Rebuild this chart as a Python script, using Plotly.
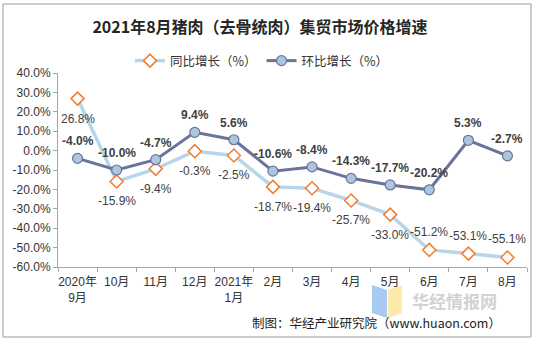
import plotly.graph_objects as go

categories = ["2020年<br>9月", "10月", "11月", "12月", "2021年<br>1月", "2月", "3月", "4月", "5月", "6月", "7月", "8月"]
yoy = [26.8, -15.9, -9.4, -0.3, -2.5, -18.7, -19.4, -25.7, -33.0, -51.2, -53.1, -55.1]
mom = [-4.0, -10.0, -4.7, 9.4, 5.6, -10.6, -8.4, -14.3, -17.7, -20.2, 5.3, -2.7]
yoy_label_above = [False, False, False, False, False, False, False, False, False, True, True, True]
ytick_vals = [40, 30, 20, 10, 0, -10, -20, -30, -40, -50, -60]
ytick_text = ["40.0%", "30.0%", "20.0%", "10.0%", "0.0%", "-10.0%", "-20.0%", "-30.0%", "-40.0%", "-50.0%", "-60.0%"]

W, H = 536, 341
L, R, T, B = 58, 9, 73, 74
pw, ph = W - L - R, H - T - B

def px(x):
    return (x - L) / pw

def py(y):
    return (H - B - y) / ph

FONT = "Liberation Sans, Arial, Noto Sans CJK SC, sans-serif"

fig = go.Figure()
fig.add_trace(go.Scatter(
    x=categories, y=yoy, name="同比增长（%）", mode="lines+markers",
    line=dict(color="#b8d5ea", width=3.5),
    marker=dict(symbol="diamond", size=10, color="white", line=dict(color="#ef7d2f", width=1.5)),
))
fig.add_trace(go.Scatter(
    x=categories, y=mom, name="环比增长（%）", mode="lines+markers",
    line=dict(color="#6b7399", width=3),
    marker=dict(symbol="circle", size=10, color="#abc7e0", line=dict(color="#6b7399", width=1.2)),
))

annotations = []
for c, v, above in zip(categories, yoy, yoy_label_above):
    annotations.append(dict(x=c, y=v, xref="x", yref="y", text=f"{v:.1f}%", showarrow=False,
                            yshift=18 if above else -20,
                            font=dict(family=FONT, size=12, color="#404040")))
for c, v in zip(categories, mom):
    annotations.append(dict(x=c, y=v, xref="x", yref="y", text=f"<b>{v:.1f}%</b>", showarrow=False,
                            yshift=17, font=dict(family=FONT, size=12, color="#404040")))

annotations.append(dict(xref="paper", yref="paper", x=px(410), y=py(300), xanchor="left", yanchor="middle",
                        text="<b>华经情报网</b>", showarrow=False,
                        font=dict(family="Noto Sans CJK SC", size=17, color="#d2d2d2")))
annotations.append(dict(xref="paper", yref="paper", x=px(503), y=py(322), xanchor="right", yanchor="middle",
                        text="制图：华经产业研究院（www.huaon.com）", showarrow=False,
                        font=dict(family="Noto Sans CJK SC, " + FONT, size=12.5, color="#222222")))

shapes = [
    dict(type="rect", xref="paper", yref="paper", x0=px(3), x1=px(531), y0=py(337), y1=py(4),
         line=dict(color="#9a9a9a", width=1), fillcolor="rgba(0,0,0,0)", layer="below"),
    dict(type="path", xref="paper", yref="paper",
         path=f"M {px(372)} {py(285)} L {px(387)} {py(290)} L {px(387)} {py(318)} L {px(372)} {py(313)} Z",
         line=dict(width=0), fillcolor="#a9c9f2", layer="below"),
    dict(type="path", xref="paper", yref="paper",
         path=f"M {px(388)} {py(290)} L {px(402)} {py(285)} L {px(402)} {py(313)} L {px(388)} {py(318)} Z",
         line=dict(width=0), fillcolor="#fdeaa9", layer="below"),
]

fig.update_layout(
    width=W, height=H, margin=dict(l=L, r=R, t=T, b=B),
    paper_bgcolor="white", plot_bgcolor="white",
    title=dict(text="<b>2021年8月猪肉（去骨统肉）集贸市场价格增速</b>", xref="container", yref="container",
               x=260 / W, y=1 - 27 / H, xanchor="center", yanchor="middle",
               font=dict(family="Noto Sans CJK SC", size=16, color="#262626")),
    legend=dict(orientation="h", xref="paper", yref="paper", x=px(262), y=py(61), xanchor="center", yanchor="middle",
                font=dict(family="Noto Sans CJK SC", size=12.5, color="#333333"), itemwidth=30,
                bgcolor="rgba(0,0,0,0)"),
    xaxis=dict(type="category", range=[-0.5, 11.5], tickson="boundaries", ticks="outside", ticklen=4,
               tickangle=0, automargin=False, ticklabelstandoff=4,
               tickcolor="#a6a6a6", showline=True, linecolor="#a6a6a6", showgrid=False, zeroline=False,
               tickfont=dict(family=FONT, size=12, color="#333333")),
    yaxis=dict(range=[-60, 40], tickvals=ytick_vals, ticktext=ytick_text, ticks="outside", ticklen=4,
               tickcolor="#a6a6a6", showline=True, linecolor="#a6a6a6", showgrid=False, zeroline=False,
               tickfont=dict(family=FONT, size=12, color="#333333")),
    annotations=annotations, shapes=shapes, showlegend=True,
)

fig.write_html("out.html")
